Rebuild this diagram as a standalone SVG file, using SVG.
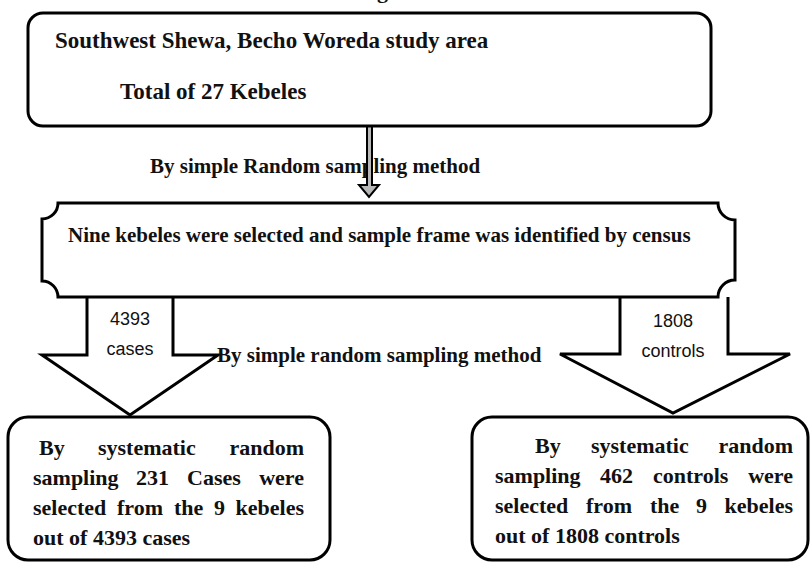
<svg xmlns="http://www.w3.org/2000/svg" width="811" height="563" viewBox="0 0 811 563">
<style>
.box{fill:#fff;stroke:#000;stroke-width:3}
.arr{fill:#fff;stroke:#000;stroke-width:3;stroke-linejoin:miter}
.t{font-family:"Liberation Serif","Times New Roman",serif;font-weight:bold;fill:#111}
.t23{font-size:23px}
.t21{font-size:21px}
.t22{font-size:22px}
.s{font-family:"Liberation Sans",Arial,sans-serif;font-size:18px;fill:#111;text-anchor:middle}
</style>
<rect width="811" height="563" fill="#fff"/>
<text class="t t22" x="377" y="-2">g</text>
<g id="connectors">
  <text class="t t21" x="150" y="173">By simple Random sampling method</text>
  <path class="arr" style="stroke-width:2;fill:#b8b8b8" d="M367,127 V185 H359 L369,197 L379,185 H372 V127"/>
  <path class="arr" d="M87,297 V355 H42 L130,415 L218,355 H173 V297"/>
  <path class="arr" d="M620,297 V354 H560 L673,413 L790,354 H728 V297"/>
  <text class="s" x="130" y="325">4393</text>
  <text class="s" x="130" y="355">cases</text>
  <text class="s" x="673" y="327">1808</text>
  <text class="s" x="673" y="357">controls</text>
  <text class="t t21" x="217" y="362">By simple random sampling method</text>
</g>
<g id="study-area">
  <rect class="box" x="28" y="13" width="683" height="113" rx="15"/>
  <text class="t t23" x="55" y="48">Southwest Shewa, Becho Woreda study area</text>
  <text class="t t23" x="120" y="99">Total of 27 Kebeles</text>
</g>
<g id="nine-kebeles">
  <path class="box" d="M58,203 H718 A17,17 0 0 0 735,220 V280 A17,17 0 0 0 718,297 H58 A16,16 0 0 0 42,281 V219 A16,16 0 0 0 58,203 Z"/>
  <text class="t t21" x="68" y="242">Nine kebeles were selected and sample frame was identified by census</text>
</g>
<g id="cases-box">
  <rect class="box" x="8" y="417" width="322" height="143" rx="20"/>
  <text class="t t22" y="455"><tspan x="39">By</tspan><tspan x="98">systematic</tspan><tspan x="304" text-anchor="end">random</tspan></text>
  <text class="t t22" y="485"><tspan x="33">sampling</tspan><tspan x="136">231</tspan><tspan x="187">Cases</tspan><tspan x="304" text-anchor="end">were</tspan></text>
  <text class="t t22" y="515"><tspan x="33">selected</tspan><tspan x="117">from</tspan><tspan x="174">the</tspan><tspan x="214">9</tspan><tspan x="304" text-anchor="end">kebeles</tspan></text>
  <text class="t t22" x="33" y="545">out of 4393 cases</text>
</g>
<g id="controls-box">
  <rect class="box" x="472" y="417" width="336" height="143" rx="20"/>
  <text class="t t22" y="453"><tspan x="535">By</tspan><tspan x="591">systematic</tspan><tspan x="793" text-anchor="end">random</tspan></text>
  <text class="t t22" y="483"><tspan x="495">sampling</tspan><tspan x="600">462</tspan><tspan x="653">controls</tspan><tspan x="793" text-anchor="end">were</tspan></text>
  <text class="t t22" y="513"><tspan x="495">selected</tspan><tspan x="586">from</tspan><tspan x="650">the</tspan><tspan x="696">9</tspan><tspan x="793" text-anchor="end">kebeles</tspan></text>
  <text class="t t22" x="495" y="543">out of 1808 controls</text>
</g>
</svg>
